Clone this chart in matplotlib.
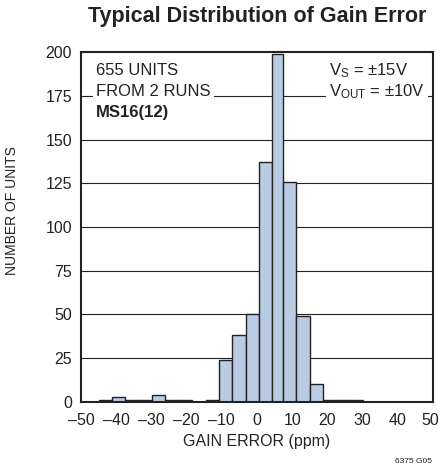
import matplotlib
matplotlib.use('Agg')
from matplotlib import pyplot as plt
from matplotlib import transforms

plt.rcParams['font.family'] = ['Liberation Sans', 'DejaVu Sans']

# Bin edges (ppm) and unit counts
bin_edges = [-45, -41.2, -37.4, -33.6, -29.8, -26, -22.2, -18.4, -14.6, -10.8,
             -7, -3.2, 0.6, 4.4, 7.4, 11.2, 15, 18.8, 22.6, 26.4, 30.2]
counts = [1, 3, 1, 1, 4, 1, 1, 0, 1, 24, 38, 50, 137, 199, 126, 49, 10, 1, 1, 1]

x_ticks = [-50, -40, -30, -20, -10, 0, 10, 20, 30, 40, 50]
y_ticks = [0, 25, 50, 75, 100, 125, 150, 175, 200]

lefts = bin_edges[:-1]
widths = [b - a for a, b in zip(bin_edges[:-1], bin_edges[1:])]

fig = plt.figure(figsize=(4.4, 4.69), dpi=100)
ax = fig.add_axes([0.184, 0.143, 0.800, 0.746])

# Horizontal grid behind the bars
for y in y_ticks[1:-1]:
    ax.axhline(y, color='#222222', lw=0.8, zorder=1)

ax.bar(lefts, counts, width=widths, align='edge', color='#b9cce4',
       edgecolor='#222222', linewidth=1.0, zorder=2)

ax.set_xlim(-50, 50)
ax.set_ylim(0, 200)
ax.set_xticks(x_ticks)
ax.set_yticks(y_ticks)
ax.set_xticklabels([str(t).replace('-', '\u2013') for t in x_ticks])
ax.tick_params(axis='both', length=0, labelsize=11.5, colors='#222222')
ax.tick_params(axis='x', pad=8)
ax.tick_params(axis='y', pad=6.5)
for s in ax.spines.values():
    s.set_linewidth(1.5)
    s.set_color('#222222')

# keep the last x label inside the picture
last = ax.get_xticklabels()[-1]
last.set_transform(last.get_transform() + transforms.ScaledTranslation(-3 / 100, 0, fig.dpi_scale_trans))

ax.set_xlabel('GAIN ERROR (ppm)', fontsize=11.5, color='#222222', labelpad=4)
ax.set_ylabel('NUMBER OF UNITS', fontsize=10, color='#222222')
ax.yaxis.set_label_coords(-0.175, 0.546)
fig.text(0.584, 0.964, 'Typical Distribution of Gain Error', ha='center', va='center',
         fontsize=15.5, fontweight='bold', color='#222222')

# Annotations, one line each, white box where the 175 grid line crosses
box = dict(facecolor='white', edgecolor='none', pad=2.5)
ax.text(0.043, 0.934, '655 UNITS', transform=ax.transAxes, ha='left', va='baseline',
        fontsize=12, color='#222222', zorder=3)
ax.text(0.043, 0.874, 'FROM 2 RUNS', transform=ax.transAxes, ha='left', va='baseline',
        fontsize=12, color='#222222', bbox=box, zorder=3)
ax.text(0.043, 0.814, 'MS16(12)', transform=ax.transAxes, ha='left', va='baseline',
        fontsize=12, fontweight='bold', color='#222222', zorder=3)
ax.text(0.705, 0.934, '$\\mathregular{V_S}$ = \u00b115V', transform=ax.transAxes,
        ha='left', va='baseline', fontsize=12, color='#222222', zorder=3)
ax.text(0.705, 0.874, '$\\mathregular{V_{OUT}}$ = \u00b110V', transform=ax.transAxes,
        ha='left', va='baseline', fontsize=12, color='#222222', bbox=box, zorder=3)

fig.text(0.982, 0.008, '6375 G05', ha='right', va='bottom', fontsize=6, color='#222222')

plt.savefig('out.png', dpi=100)
